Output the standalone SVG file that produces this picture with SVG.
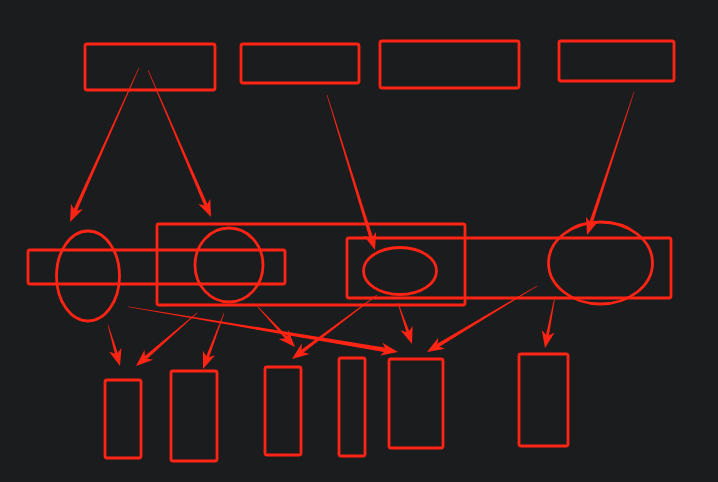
<svg xmlns="http://www.w3.org/2000/svg" xmlns:xlink="http://www.w3.org/1999/xlink" width="718" height="482" viewBox="0 0 718 482">
<style>
.n{fill:none;stroke:#ff2414;stroke-width:2.8}
.a{fill:#ff2414}
</style>
<defs>
<path id="hd" d="M0,0 L-17,-6.5 L-12,0 L-17,6.5 Z"/>
</defs>
<rect width="718" height="482" fill="#1b1c1e"/>
<g id="top1"><rect class="n" x="85" y="44" width="130" height="46" rx="2"/></g>
<g id="top2"><rect class="n" x="241" y="44" width="118" height="39" rx="2"/></g>
<g id="top3"><rect class="n" x="380" y="41" width="139" height="47" rx="2"/></g>
<g id="top4"><rect class="n" x="559" y="41" width="115" height="40" rx="2"/></g>
<g id="bandL"><rect class="n" x="28" y="250" width="257" height="34" rx="2"/></g>
<g id="bigRect"><rect class="n" x="157" y="224" width="308" height="81" rx="2"/></g>
<g id="bandR"><rect class="n" x="347" y="238" width="324" height="60" rx="2"/></g>
<g id="ellL"><ellipse class="n" cx="88" cy="276" rx="31.5" ry="45"/></g>
<g id="circ"><ellipse class="n" cx="229" cy="265" rx="34" ry="37"/></g>
<g id="ellS"><ellipse class="n" cx="400" cy="271" rx="36.5" ry="23.5"/></g>
<g id="ellR"><ellipse class="n" cx="600.5" cy="263" rx="52" ry="41"/></g>
<g id="b1"><rect class="n" x="105" y="380" width="36" height="78" rx="2"/></g>
<g id="b2"><rect class="n" x="171" y="371" width="46" height="90" rx="2"/></g>
<g id="b3"><rect class="n" x="265" y="367" width="36" height="88" rx="2"/></g>
<g id="b4"><rect class="n" x="339" y="358" width="26" height="98" rx="2"/></g>
<g id="b5"><rect class="n" x="389" y="359" width="54" height="89" rx="2"/></g>
<g id="b6"><rect class="n" x="519" y="354" width="49" height="92" rx="2"/></g>
<g id="connectors" class="a">
<g transform="translate(70,222) rotate(114.1)"><polygon points="-168.8,-0.3 -11,-1.8 -11,1.8 -168.8,0.3"/><use xlink:href="#hd"/></g>
<g transform="translate(211,217) rotate(66.8)"><polygon points="-159.9,-0.3 -11,-1.8 -11,1.8 -159.9,0.3"/><use xlink:href="#hd"/></g>
<g transform="translate(375,250) rotate(72.8)"><polygon points="-162.3,-0.3 -11,-1.8 -11,1.8 -162.3,0.3"/><use xlink:href="#hd"/></g>
<g transform="translate(587,235) rotate(108.2)"><polygon points="-150.5,-0.3 -11,-1.8 -11,1.8 -150.5,0.3"/><use xlink:href="#hd"/></g>
<g transform="translate(120,366) rotate(73.7)"><polygon points="-42.7,-0.3 -11,-1.6 -11,1.6 -42.7,0.3"/><use xlink:href="#hd"/></g>
<g transform="translate(136,366) rotate(139)"><polygon points="-80.8,-0.3 -11,-1.8 -11,1.8 -80.8,0.3"/><use xlink:href="#hd"/></g>
<g transform="translate(203,369) rotate(110.6)"><polygon points="-59.8,-0.3 -11,-1.6 -11,1.6 -59.8,0.3"/><use xlink:href="#hd"/></g>
<g transform="translate(295,347) rotate(47.2)"><polygon points="-54.5,-0.3 -11,-1.6 -11,1.6 -54.5,0.3"/><use xlink:href="#hd"/></g>
<g transform="translate(398,352) rotate(9.5)"><polygon points="-273.7,-0.3 -11,-2.3 -11,2.3 -273.7,0.3"/><use xlink:href="#hd"/></g>
<g transform="translate(292,359) rotate(143)"><polygon points="-106.4,-0.3 -11,-1.8 -11,1.8 -106.4,0.3"/><use xlink:href="#hd"/></g>
<g transform="translate(412,344) rotate(71.1)"><polygon points="-43.3,-0.3 -11,-1.6 -11,1.6 -43.3,0.3"/><use xlink:href="#hd"/></g>
<g transform="translate(427,352) rotate(149)"><polygon points="-128.3,-0.3 -11,-1.8 -11,1.8 -128.3,0.3"/><use xlink:href="#hd"/></g>
<g transform="translate(545,348) rotate(100.9)"><polygon points="-53,-0.3 -11,-1.6 -11,1.6 -53,0.3"/><use xlink:href="#hd"/></g>
</g>
</svg>
